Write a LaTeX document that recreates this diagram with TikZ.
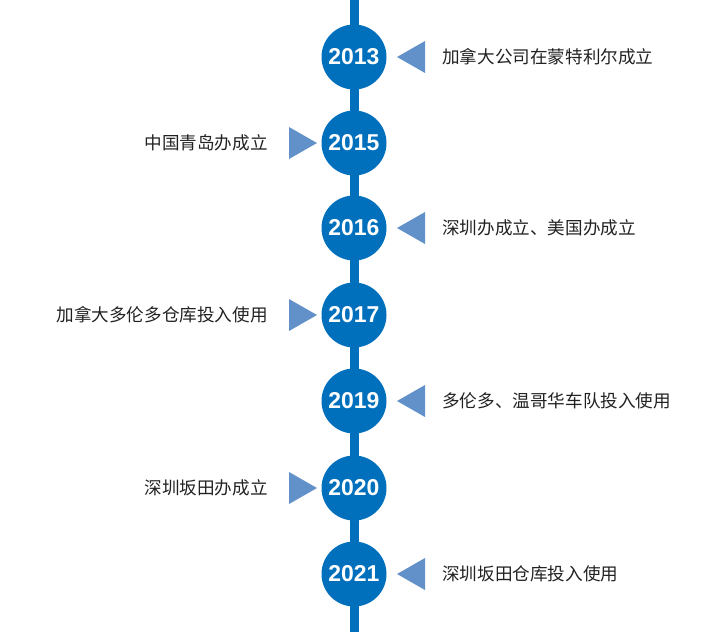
\documentclass[tikz,border=0pt]{standalone}
\usepackage{fontspec}
\setmainfont{Liberation Sans}
\newfontfamily\cjk{Noto Sans CJK SC}
\begin{document}
\begin{tikzpicture}[x=0.75pt,y=-0.75pt,
  yearnode/.style={circle,fill=tlblue,minimum size=65*0.75pt,inner sep=0pt,text=white,font=\fontsize{17.2}{20}\selectfont\bfseries},
  righttxt/.style={anchor=west,inner sep=0pt,text=txtgray,font=\cjk\fontsize{13.2}{16}\selectfont},
  lefttxt/.style={anchor=east,inner sep=0pt,text=txtgray,font=\cjk\fontsize{13.2}{16}\selectfont},
  tri/.style={fill=triblue,draw=none}]
\definecolor{tlblue}{HTML}{0070BD}
\definecolor{triblue}{HTML}{6290C8}
\definecolor{txtgray}{HTML}{222222}
\useasboundingbox (0,0) rectangle (710,632);
\coordinate (top) at (354,0);
\coordinate (bot) at (354,632);
\draw[tlblue,line width=6.75pt] (top) -- (bot);
% right-side events
\foreach \y/\yr/\t/\n in {57/2013/加拿大公司在蒙特利尔成立/a,228/2016/深圳办成立、美国办成立/c,401/2019/多伦多、温哥华车队投入使用/e,574/2021/深圳坂田仓库投入使用/g}{
  \node[yearnode] (y\n) at (354,\y) {\yr};
  \fill[triblue] (397,\y) -- (425,\y-16) -- (425,\y+16) -- cycle;
  \node[righttxt] (t\n) at (442,\y) {\t};
}
% left-side events
\foreach \y/\yr/\t/\n in {143/2015/中国青岛办成立/b,315/2017/加拿大多伦多仓库投入使用/d,488/2020/深圳坂田办成立/f}{
  \node[yearnode] (y\n) at (354,\y) {\yr};
  \fill[triblue] (317,\y) -- (289,\y-16) -- (289,\y+16) -- cycle;
  \node[lefttxt] (t\n) at (268,\y) {\t};
}
\end{tikzpicture}
\end{document}
